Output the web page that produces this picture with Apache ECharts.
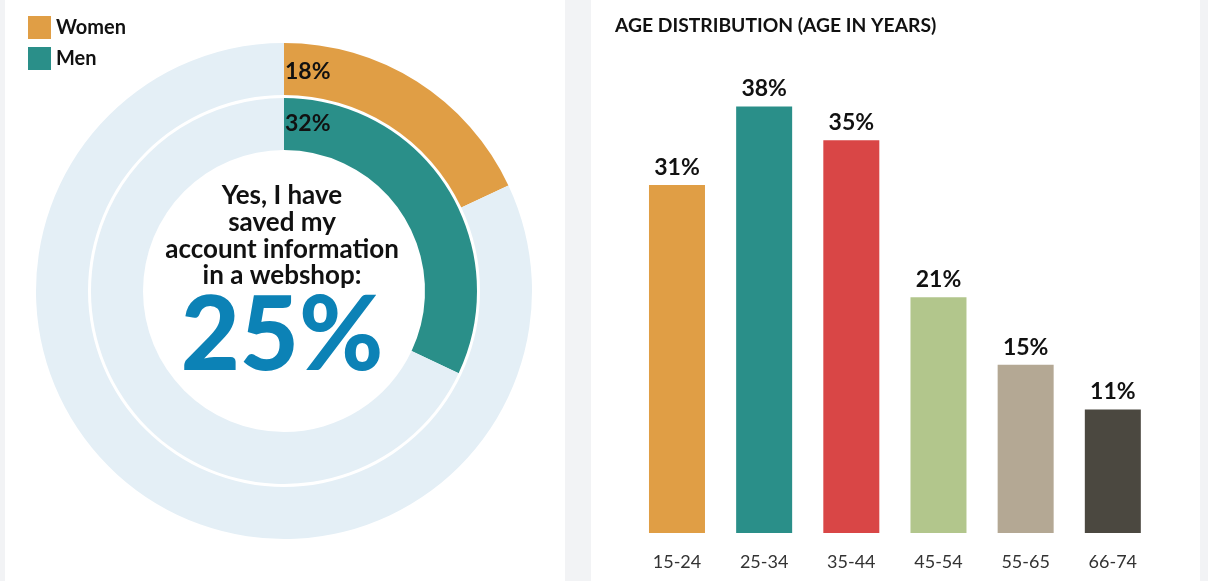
<!DOCTYPE html>
<html>
<head>
<meta charset="utf-8">
<script src="https://cdn.jsdelivr.net/npm/echarts@6/dist/echarts.min.js"></script>
<style>
  html, body { margin: 0; padding: 0; background: #f2f3f5; }
  #chart { width: 1208px; height: 581px; }
</style>
</head>
<body>
<div id="chart"></div>
<script>
// Share who saved account information in a webshop, by gender
const genderNames = ['Women', 'Men'];
const genderValues = [18, 32];
const overallValue = 25;
const centerLines = ['Yes, I have', 'saved my', 'account information', 'in a webshop:'];

// Age distribution
const ageGroups = ['15-24', '25-34', '35-44', '45-54', '55-65', '66-74'];
const ageValues = [31, 38, 35, 21, 15, 11];
const ageColors = ['#e09e45', '#2a8f89', '#d94646', '#b2c68c', '#b4a894', '#4b4840'];
const chartTitle = 'AGE DISTRIBUTION (AGE IN YEARS)';

const FONT = 'Lato, "Source Sans Pro", "Open Sans", sans-serif';
const ringBg = '#e4eff6';
const genderColors = ['#e09e45', '#2a8f89'];
const cx = 284, cy = 291;

const chart = echarts.init(document.getElementById('chart'), null, { renderer: 'canvas' });

function ring(i, inner, outer) {
  return {
    type: 'pie',
    center: [cx, cy],
    radius: [inner, outer],
    startAngle: 90,
    clockwise: true,
    silent: true,
    label: { show: false },
    labelLine: { show: false },
    emphasis: { disabled: true },
    itemStyle: { borderWidth: 0 },
    data: [
      { name: genderNames[i], value: genderValues[i], itemStyle: { color: genderColors[i] } },
      { name: 'rest' + i, value: 100 - genderValues[i], itemStyle: { color: ringBg } }
    ]
  };
}

const graphics = [
  // panels
  { type: 'rect', z: -10, shape: { x: 5, y: 0, width: 560, height: 581 }, style: { fill: '#ffffff' } },
  { type: 'rect', z: -10, shape: { x: 591, y: 0, width: 609, height: 581 }, style: { fill: '#ffffff' } },
  // ring percentages
  { type: 'text', z: 100, x: 285, y: 72, style: { text: genderValues[0] + '%', font: 'bold 23px ' + FONT, fill: '#111', textVerticalAlign: 'middle' } },
  { type: 'text', z: 100, x: 285, y: 124, style: { text: genderValues[1] + '%', font: 'bold 23px ' + FONT, fill: '#111', textVerticalAlign: 'middle' } },
  // big overall number
  { type: 'text', z: 100, x: 282, y: 337, style: { text: overallValue + '%', font: '900 102px ' + FONT, fill: '#0c82b6', textAlign: 'center', textVerticalAlign: 'middle' } }
];
centerLines.forEach((t, k) => {
  graphics.push({ type: 'text', z: 100, x: 282, y: 196 + k * 26.7,
    style: { text: t, font: 'bold 26px ' + FONT, fill: '#111', textAlign: 'center', textVerticalAlign: 'middle' } });
});

const option = {
  animation: false,
  textStyle: { fontFamily: FONT },
  graphic: graphics,
  title: {
    text: chartTitle,
    left: 610, top: 11,
    textStyle: { fontFamily: FONT, fontWeight: 'bold', fontSize: 19.3, color: '#111' }
  },
  legend: {
    data: genderNames,
    orient: 'vertical',
    left: 23, top: 11,
    itemWidth: 23, itemHeight: 23, itemGap: 8,
    icon: 'rect',
    selectedMode: false,
    textStyle: { fontFamily: FONT, fontWeight: 'bold', fontSize: 20, color: '#111' }
  },
  grid: { left: 633.4, width: 523, top: 84, height: 449, containLabel: false },
  xAxis: {
    type: 'category',
    data: ageGroups,
    axisLine: { show: false },
    axisTick: { show: false },
    axisLabel: { fontFamily: FONT, fontSize: 18, color: '#333', margin: 20 }
  },
  yAxis: {
    type: 'value', min: 0, max: 40,
    show: false, splitLine: { show: false }
  },
  series: [
    ring(0, 196, 248),
    ring(1, 141, 193),
    {
      type: 'bar',
      barWidth: 56,
      silent: true,
      data: ageValues.map((v, i) => ({ value: v, itemStyle: { color: ageColors[i] } })),
      label: {
        show: true, position: 'top', distance: 6,
        formatter: p => p.value + '%',
        fontFamily: FONT, fontWeight: 'bold', fontSize: 23, color: '#111'
      }
    }
  ]
};

chart.setOption(option);
</script>
</body>
</html>
